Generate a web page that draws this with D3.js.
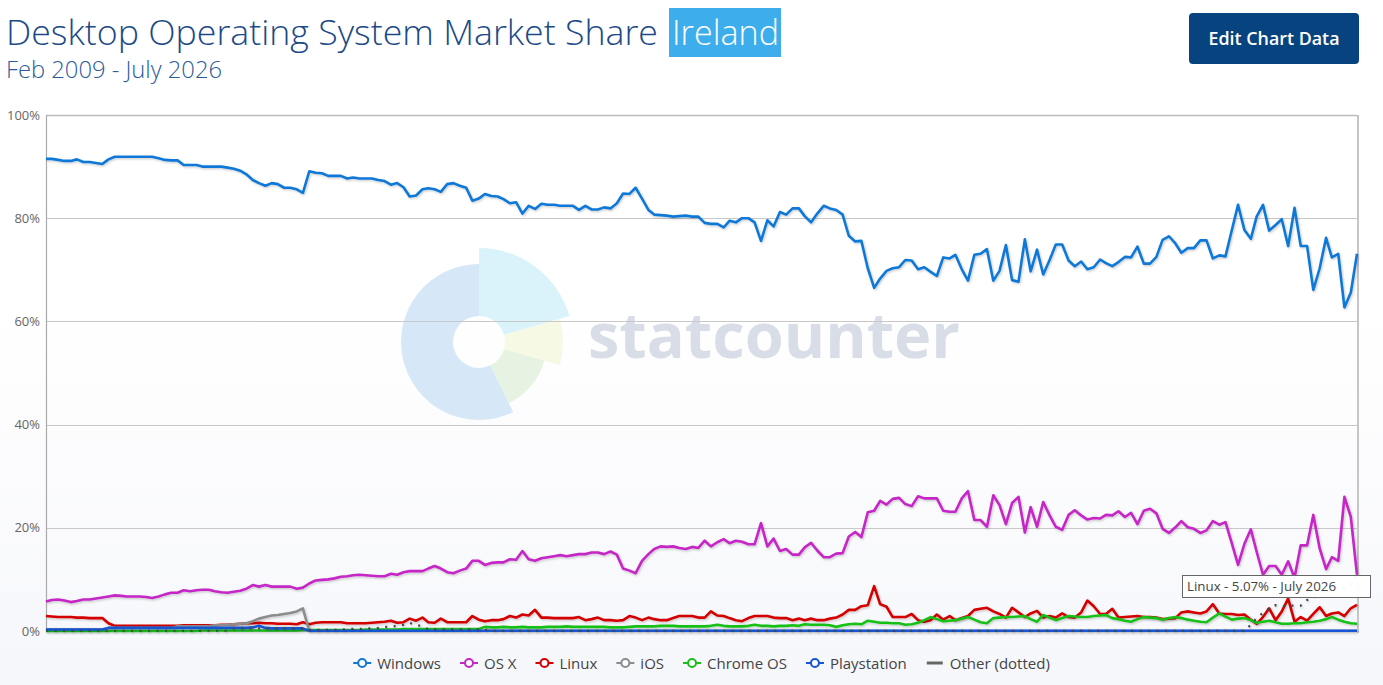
<!DOCTYPE html>
<html>
<head>
<meta charset="utf-8">
<script src="https://cdnjs.cloudflare.com/ajax/libs/d3/7.8.5/d3.min.js"></script>
<style>
  body { margin: 0; background: #fff; }
  svg { display: block; }
</style>
</head>
<body>
<script>
// Desktop OS market share, Ireland, monthly Feb 2009 - July 2026

var W = 1383, H = 685;

var seriesNames = ["Windows", "OS X", "Linux", "iOS", "Chrome OS", "Playstation", "Other (dotted)"];

var windows = [
  91.5, 91.5, 91.3, 91.1, 91.1, 91.4, 90.9, 90.9, 90.7, 90.5,
  91.4, 91.9, 91.9, 91.9, 91.9, 91.9, 91.9, 91.9, 91.6, 91.3,
  91.2, 91.2, 90.3, 90.3, 90.3, 90.0, 90.0, 90.0, 90.0, 89.8,
  89.6, 89.2, 88.5, 87.4, 86.8, 86.3, 86.8, 86.6, 85.9, 85.9,
  85.6, 84.9, 89.1, 88.8, 88.7, 88.2, 88.2, 88.2, 87.7, 87.9,
  87.7, 87.7, 87.7, 87.4, 87.2, 86.5, 86.8, 86.0, 84.2, 84.4,
  85.6, 85.8, 85.6, 85.1, 86.6, 86.8, 86.3, 85.9, 83.4, 83.8,
  84.7, 84.3, 84.2, 83.7, 82.9, 83.1, 80.9, 82.4, 81.8, 82.8,
  82.6, 82.6, 82.4, 82.4, 82.4, 81.6, 82.4, 81.7, 81.7, 82.1,
  81.9, 82.9, 84.8, 84.7, 85.9, 83.8, 81.6, 80.7, 80.6, 80.5,
  80.3, 80.4, 80.5, 80.3, 80.3, 79.1, 78.9, 78.9, 78.2, 79.5,
  79.2, 80.0, 80.0, 79.2, 75.6, 79.6, 78.4, 81.2, 80.7, 81.9,
  81.9, 80.4, 79.2, 80.9, 82.4, 81.9, 81.6, 80.7, 76.6, 75.5,
  75.6, 70.3, 66.5, 68.3, 69.8, 70.3, 70.5, 71.9, 71.8, 70.1,
  70.5, 69.6, 68.8, 72.4, 72.2, 72.9, 70.1, 67.9, 72.9, 73.1,
  74.0, 67.9, 69.8, 74.8, 68.0, 67.7, 75.9, 69.7, 73.9, 69.1,
  71.9, 74.9, 74.9, 71.8, 70.7, 71.6, 70.1, 70.5, 72.0, 71.3,
  70.7, 71.5, 72.5, 72.4, 74.5, 71.2, 71.2, 72.5, 75.8, 76.5,
  75.1, 73.3, 74.2, 74.2, 75.7, 75.7, 72.2, 72.8, 72.6, 77.7,
  82.6, 77.7, 76.0, 80.3, 82.6, 77.6, 78.7, 79.8, 74.6, 82.0,
  74.6, 74.6, 66.1, 70.3, 76.2, 72.4, 73.1, 62.7, 65.6, 73.1
];

var osx = [
  5.7, 6.0, 6.1, 5.9, 5.6, 5.8, 6.1, 6.1, 6.3, 6.5,
  6.7, 6.9, 6.8, 6.7, 6.7, 6.7, 6.6, 6.4, 6.7, 7.1,
  7.4, 7.4, 7.9, 7.7, 7.9, 8.0, 8.0, 7.7, 7.5, 7.4,
  7.6, 7.8, 8.2, 8.9, 8.6, 8.9, 8.6, 8.6, 8.6, 8.6,
  8.2, 8.4, 9.2, 9.8, 9.9, 10.0, 10.2, 10.5, 10.6, 10.8,
  10.9, 10.8, 10.7, 10.6, 10.6, 11.1, 10.9, 11.4, 11.6, 11.6,
  11.6, 12.1, 12.6, 12.1, 11.4, 11.2, 11.7, 12.1, 13.6, 13.6,
  12.8, 13.2, 13.3, 13.3, 13.9, 13.8, 15.5, 13.9, 13.6, 14.1,
  14.3, 14.5, 14.7, 14.5, 14.7, 14.9, 14.9, 15.2, 15.2, 14.9,
  15.4, 14.8, 12.1, 11.7, 11.2, 13.6, 14.9, 15.9, 16.4, 16.3,
  16.4, 16.1, 15.9, 16.3, 16.1, 17.5, 16.4, 17.2, 17.8, 17.0,
  17.5, 17.3, 16.8, 16.8, 20.9, 16.4, 17.9, 15.5, 15.9, 14.8,
  14.8, 16.2, 17.1, 15.6, 14.3, 14.3, 15.0, 15.1, 18.3, 19.2,
  18.2, 23.0, 23.3, 25.2, 24.5, 25.6, 25.8, 24.6, 24.2, 26.1,
  25.7, 25.7, 25.7, 23.3, 23.1, 23.1, 25.7, 27.1, 21.5, 21.5,
  20.2, 26.3, 24.4, 20.7, 24.8, 26.0, 19.1, 24.0, 20.2, 25.0,
  22.4, 20.2, 19.6, 22.5, 23.4, 22.4, 21.6, 21.9, 21.8, 22.5,
  22.4, 23.2, 22.1, 22.9, 20.7, 23.3, 23.7, 22.8, 19.8, 19.0,
  20.1, 21.3, 20.1, 19.8, 19.0, 19.5, 21.3, 20.6, 21.1, 17.0,
  12.8, 16.9, 19.7, 15.4, 10.9, 12.6, 12.6, 10.9, 13.5, 10.3,
  16.6, 16.6, 22.5, 16.0, 12.0, 14.3, 13.6, 26.0, 22.1, 10.9
];

var linux = [
  2.9, 2.8, 2.7, 2.7, 2.7, 2.6, 2.6, 2.5, 2.5, 2.5,
  1.5, 1.0, 1.0, 1.0, 1.0, 1.0, 1.0, 1.0, 1.0, 1.0,
  1.0, 1.0, 1.1, 1.1, 1.1, 1.1, 1.1, 1.1, 1.2, 1.2,
  1.3, 1.4, 1.5, 1.5, 1.6, 1.5, 1.5, 1.4, 1.4, 1.4,
  1.3, 1.7, 1.3, 1.6, 1.7, 1.7, 1.7, 1.7, 1.5, 1.5,
  1.5, 1.5, 1.6, 1.7, 1.8, 2.0, 1.6, 1.7, 2.4, 2.0,
  2.6, 1.7, 1.6, 2.4, 1.7, 1.7, 1.7, 1.7, 2.9, 2.2,
  1.9, 2.1, 2.1, 2.3, 2.9, 2.6, 3.2, 3.0, 4.1, 2.6,
  2.6, 2.5, 2.5, 2.5, 2.5, 2.7, 2.1, 2.3, 2.6, 2.1,
  2.1, 2.0, 2.1, 2.9, 2.6, 2.1, 2.6, 2.3, 2.1, 2.1,
  2.5, 2.9, 2.9, 2.9, 2.6, 2.6, 3.8, 3.0, 2.9, 2.5,
  2.1, 1.9, 2.5, 2.9, 2.9, 2.9, 2.6, 2.5, 2.5, 2.1,
  2.4, 2.1, 2.4, 2.1, 2.1, 2.4, 2.6, 3.2, 4.1, 4.1,
  4.8, 5.0, 8.7, 5.2, 4.7, 2.7, 2.7, 2.7, 3.3, 2.1,
  1.8, 2.1, 3.2, 2.2, 2.9, 2.1, 2.5, 2.9, 4.1, 4.3,
  4.5, 3.8, 3.3, 2.6, 4.5, 3.6, 2.7, 3.4, 3.9, 2.6,
  2.9, 2.6, 3.4, 2.7, 2.6, 3.6, 5.9, 4.8, 3.3, 3.3,
  4.3, 2.6, 2.7, 2.8, 2.9, 2.7, 2.7, 2.6, 2.3, 2.4,
  2.5, 3.6, 3.8, 3.6, 3.4, 3.8, 5.2, 3.4, 3.3, 3.3,
  3.1, 3.2, 2.2, 1.4, 2.7, 4.4, 2.1, 3.8, 6.3, 1.8,
  2.7, 2.0, 3.3, 4.6, 2.9, 3.4, 3.6, 2.9, 4.4, 5.07
];

var ios = [
  0.3, 0.3, 0.3, 0.3, 0.3, 0.3, 0.3, 0.3, 0.3, 0.3,
  0.6, 0.6, 0.6, 0.6, 0.6, 0.6, 0.6, 0.6, 0.6, 0.6,
  0.6, 0.9, 0.9, 0.9, 0.9, 0.9, 0.9, 1.1, 1.1, 1.2,
  1.3, 1.4, 1.5, 1.9, 2.4, 2.7, 3.0, 3.1, 3.3, 3.5,
  3.8, 4.4, 0, 0, 0, 0, 0, 0, 0, 0,
  0, 0, 0, 0, 0, 0, 0, 0, 0, 0,
  0, 0, 0, 0, 0, 0, 0, 0, 0, 0,
  0, 0, 0, 0, 0, 0, 0, 0, 0, 0,
  0, 0, 0, 0, 0, 0, 0, 0, 0, 0,
  0, 0, 0, 0, 0, 0, 0, 0, 0, 0,
  0, 0, 0, 0, 0, 0, 0, 0, 0, 0,
  0, 0, 0, 0, 0, 0, 0, 0, 0, 0,
  0, 0, 0, 0, 0, 0, 0, 0, 0, 0,
  0, 0, 0, 0, 0, 0, 0, 0, 0, 0,
  0, 0, 0, 0, 0, 0, 0, 0, 0, 0,
  0, 0, 0, 0, 0, 0, 0, 0, 0, 0,
  0, 0, 0, 0, 0, 0, 0, 0, 0, 0,
  0, 0, 0, 0, 0, 0, 0, 0, 0, 0,
  0, 0, 0, 0, 0, 0, 0, 0, 0, 0,
  0, 0, 0, 0, 0, 0, 0, 0, 0, 0,
  0, 0, 0, 0, 0, 0, 0, 0, 0, 0
];

var chromeos = [
  0, 0, 0, 0, 0, 0, 0, 0, 0, 0,
  0, 0, 0, 0, 0, 0, 0, 0, 0, 0,
  0, 0, 0, 0, 0, 0.1, 0.1, 0.1, 0.1, 0.1,
  0.1, 0.1, 0.1, 0.1, 0.1, 0.1, 0.1, 0.1, 0.1, 0.1,
  0.1, 0.2, 0.2, 0.2, 0.2, 0.2, 0.2, 0.2, 0.2, 0.2,
  0.2, 0.3, 0.3, 0.3, 0.3, 0.3, 0.3, 0.4, 0.4, 0.4,
  0.4, 0.4, 0.4, 0.4, 0.4, 0.4, 0.4, 0.4, 0.4, 0.4,
  0.8, 0.7, 0.7, 0.8, 0.7, 0.7, 0.8, 0.7, 0.7, 0.7,
  0.8, 0.8, 0.8, 0.9, 0.8, 0.8, 0.8, 0.8, 0.8, 0.8,
  0.7, 0.7, 0.7, 0.8, 0.9, 0.9, 0.9, 0.9, 1.0, 1.0,
  1.0, 0.9, 0.9, 0.9, 0.9, 0.9, 1.0, 1.2, 1.0, 0.9,
  0.9, 0.9, 1.0, 1.2, 1.0, 1.0, 0.9, 1.0, 1.0, 1.1,
  1.0, 1.3, 1.2, 1.2, 1.2, 1.1, 0.8, 1.1, 1.3, 1.4,
  1.3, 2.0, 1.8, 1.6, 1.6, 1.5, 1.5, 1.2, 1.3, 1.6,
  2.1, 2.7, 2.3, 1.9, 2.0, 2.1, 2.4, 2.7, 2.2, 1.7,
  1.5, 2.5, 2.6, 2.7, 2.7, 2.8, 2.9, 2.3, 1.8, 3.1,
  2.6, 2.1, 2.5, 2.9, 2.8, 2.7, 2.7, 2.9, 3.0, 3.1,
  2.5, 2.3, 2.0, 1.8, 2.3, 2.7, 2.6, 2.5, 2.2, 2.5,
  2.7, 2.5, 2.2, 2.0, 1.8, 1.7, 2.6, 3.4, 2.8, 2.2,
  2.4, 2.5, 2.1, 1.6, 1.8, 2.0, 1.7, 1.4, 1.4, 1.5,
  1.5, 1.7, 1.8, 2.0, 2.3, 2.7, 2.2, 1.8, 1.5, 1.4
];

var playstation = [
  0.3, 0.3, 0.3, 0.3, 0.3, 0.3, 0.3, 0.3, 0.3, 0.3,
  0.6, 0.6, 0.6, 0.6, 0.6, 0.6, 0.6, 0.6, 0.6, 0.6,
  0.6, 0.6, 0.6, 0.6, 0.6, 0.6, 0.6, 0.6, 0.6, 0.6,
  0.6, 0.6, 0.6, 0.7, 1.0, 0.6, 0.5, 0.5, 0.5, 0.5,
  0.5, 0.5, 0.02, 0.02, 0.02, 0.02, 0.02, 0.02, 0.02, 0.02,
  0.02, 0.02, 0.02, 0.02, 0.02, 0.02, 0.02, 0.02, 0.02, 0.02,
  0.02, 0.02, 0.02, 0.02, 0.02, 0.02, 0.02, 0.02, 0.02, 0.02,
  0.02, 0.02, 0.02, 0.02, 0.02, 0.02, 0.02, 0.02, 0.02, 0.02,
  0.02, 0.02, 0.02, 0.02, 0.02, 0.02, 0.02, 0.02, 0.02, 0.02,
  0.02, 0.02, 0.02, 0.02, 0.02, 0.02, 0.02, 0.02, 0.02, 0.02,
  0.02, 0.02, 0.02, 0.02, 0.02, 0.02, 0.02, 0.02, 0.02, 0.02,
  0.02, 0.02, 0.02, 0.02, 0.02, 0.02, 0.02, 0.02, 0.02, 0.02,
  0.02, 0.02, 0.02, 0.02, 0.02, 0.02, 0.02, 0.02, 0.02, 0.02,
  0.02, 0.02, 0.02, 0.02, 0.02, 0.02, 0.02, 0.02, 0.02, 0.02,
  0.02, 0.02, 0.02, 0.02, 0.02, 0.02, 0.02, 0.02, 0.02, 0.02,
  0.02, 0.02, 0.02, 0.02, 0.02, 0.02, 0.02, 0.02, 0.02, 0.02,
  0.02, 0.02, 0.02, 0.02, 0.02, 0.02, 0.02, 0.02, 0.02, 0.02,
  0.02, 0.02, 0.02, 0.02, 0.02, 0.02, 0.02, 0.02, 0.02, 0.02,
  0.02, 0.02, 0.02, 0.02, 0.02, 0.02, 0.02, 0.02, 0.02, 0.02,
  0.02, 0.02, 0.02, 0.02, 0.02, 0.02, 0.02, 0.02, 0.02, 0.02,
  0.02, 0.02, 0.02, 0.02, 0.02, 0.02, 0.02, 0.02, 0.02, 0.02
];

var other = [
  0.05, 0.05, 0.05, 0.05, 0.05, 0.05, 0.05, 0.05, 0.05, 0.05,
  0.05, 0.05, 0.05, 0.05, 0.05, 0.05, 0.05, 0.05, 0.05, 0.05,
  0.05, 0.05, 0.05, 0.05, 0.05, 0.05, 0.05, 0.05, 0.05, 0.05,
  0.5, 0.5, 0.5, 0.5, 0.5, 0.5, 0.5, 0.5, 0.5, 0.5,
  0.5, 0.5, 0.2, 0.2, 0.2, 0.2, 0.2, 0.2, 0.4, 0.4,
  0.4, 0.5, 0.5, 0.6, 0.8, 0.8, 1.0, 1.2, 1.6, 1.1,
  1.0, 0.3, 0.3, 0.3, 0.3, 0.3, 0.3, 0.3, 0.3, 0.3,
  0.3, 0.05, 0.05, 0.05, 0.05, 0.05, 0.05, 0.05, 0.05, 0.05,
  0.05, 0.05, 0.05, 0.05, 0.05, 0.05, 0.05, 0.05, 0.05, 0.05,
  0.05, 0.05, 0.05, 0.05, 0.05, 0.05, 0.05, 0.05, 0.05, 0.05,
  0.05, 0.05, 0.05, 0.05, 0.05, 0.05, 0.05, 0.05, 0.05, 0.05,
  0.05, 0.05, 0.05, 0.05, 0.05, 0.05, 0.05, 0.05, 0.05, 0.05,
  0.05, 0.05, 0.05, 0.05, 0.05, 0.05, 0.05, 0.05, 0.05, 0.05,
  0.05, 0.05, 0.05, 0.05, 0.05, 0.05, 0.05, 0.05, 0.05, 0.05,
  0.05, 0.05, 0.05, 0.05, 0.05, 0.05, 0.05, 0.05, 0.05, 0.05,
  0.05, 0.05, 0.05, 0.05, 0.05, 0.05, 0.05, 0.05, 0.05, 0.05,
  0.05, 0.05, 0.05, 0.05, 0.05, 0.05, 0.05, 0.05, 0.05, 0.05,
  0.05, 0.05, 0.05, 0.05, 0.05, 0.05, 0.05, 0.05, 0.05, 0.05,
  0.05, 0.05, 0.05, 0.05, 0.05, 0.05, 0.05, 0.05, 0.05, 0.05,
  0.05, 0.05, 1.2, 2.5, 3.5, 4.4, 5.0, 4.8, 4.9, 4.9,
  4.9, 6.0, 6.8, 7.9, 7.4, 8.2, 8.6, 8.1, 9.3, 11.0
];

var yTicks = [0, 20, 40, 60, 80, 100];

// monthly categories Feb 2009 .. Jul 2026
var months = d3.timeMonth.range(new Date(2009, 1, 1), new Date(2026, 7, 1));

var colors = ["#0f78d8", "#c526c5", "#d40000", "#8c8c8c", "#19c019", "#1656d6", "#444444"];
var allValues = [windows, osx, linux, ios, chromeos, playstation, other];

var margin = { left: 46, right: 1357, top: 115, bottom: 631 };

var svg = d3.select("body").append("svg")
  .attr("width", W)
  .attr("height", H);

var defs = svg.append("defs");

var bg = defs.append("linearGradient")
  .attr("id", "bg")
  .attr("x1", 0).attr("y1", 0).attr("x2", 0).attr("y2", 1);
bg.append("stop").attr("offset", "0.45").attr("stop-color", "#ffffff");
bg.append("stop").attr("offset", "1").attr("stop-color", "#f6f7fb");

var shadow = defs.append("filter")
  .attr("id", "shadow")
  .attr("x", "-5%").attr("y", "-20%").attr("width", "110%").attr("height", "140%");
shadow.append("feDropShadow")
  .attr("dx", 1).attr("dy", 1.2)
  .attr("stdDeviation", 0.9)
  .attr("flood-color", "#000")
  .attr("flood-opacity", 0.22);

svg.append("rect")
  .attr("width", W).attr("height", H)
  .attr("fill", "url(#bg)");

// scales
var x = d3.scaleTime()
  .domain([months[0], months[months.length - 1]])
  .range([margin.left, margin.right]);

var y = d3.scaleLinear()
  .domain([0, 100])
  .range([margin.bottom, margin.top]);

// watermark
var wm = svg.append("g").attr("transform", "translate(479,342)");
var wmSegs = [
  { a0: 0, a1: 74, r: 94, c: "#daf3fb" },
  { a0: 74, a1: 106, r: 84, c: "#f6f9e3" },
  { a0: 106, a1: 154, r: 68, c: "#e6f2e2" },
  { a0: 154, a1: 360, r: 78, c: "#d6e8f7" }
];
var wmArc = d3.arc().innerRadius(26);
wm.selectAll("path")
  .data(wmSegs)
  .enter()
  .append("path")
  .attr("d", function(d) {
    return wmArc({ outerRadius: d.r, startAngle: d.a0 * Math.PI / 180, endAngle: d.a1 * Math.PI / 180 });
  })
  .attr("fill", function(d) { return d.c; });

svg.append("text")
  .text("statcounter")
  .attr("x", 588)
  .attr("y", 358)
  .attr("textLength", 372)
  .attr("lengthAdjust", "spacingAndGlyphs")
  .attr("font-family", "'Open Sans', sans-serif")
  .attr("font-weight", "bold")
  .attr("font-size", "62px")
  .attr("fill", "#d8dde8");

// gridlines
svg.append("g")
  .selectAll("line")
  .data(yTicks)
  .enter()
  .append("line")
  .attr("x1", margin.left)
  .attr("x2", margin.right)
  .attr("y1", function(d) { return Math.round(y(d)) + 0.5; })
  .attr("y2", function(d) { return Math.round(y(d)) + 0.5; })
  .attr("stroke", function(d) { return d === 100 ? "#bdbdbd" : "#c8c8c8"; })
  .attr("stroke-width", function(d) { return d === 100 ? 1.5 : 1; });

// y axis
var yAxis = d3.axisLeft(y)
  .tickValues(yTicks)
  .tickFormat(function(d) { return d + "%"; })
  .tickSize(0)
  .tickPadding(6);

var gy = svg.append("g")
  .attr("transform", "translate(" + margin.left + ",0)")
  .call(yAxis);
gy.select(".domain").attr("stroke", "#aaaaaa").attr("stroke-width", 1.2);
gy.selectAll("text")
  .attr("font-family", "'Open Sans', sans-serif")
  .attr("font-size", "13px")
  .attr("fill", "#666");

// right frame
svg.append("line")
  .attr("x1", margin.right + 1).attr("x2", margin.right + 1)
  .attr("y1", margin.top).attr("y2", margin.bottom + 2)
  .attr("stroke", "#c6c6c6")
  .attr("stroke-width", 2);

// lines
var line = d3.line()
  .x(function(d) { return x(d.date); })
  .y(function(d) { return y(d.v); });

var series = seriesNames.map(function(name, i) {
  return {
    name: name,
    color: colors[i],
    values: allValues[i].map(function(v, j) { return { date: months[j], v: v }; })
  };
});

svg.append("g")
  .selectAll("path")
  .data(series)
  .enter()
  .append("path")
  .attr("d", function(d) { return line(d.values); })
  .attr("fill", "none")
  .attr("stroke", function(d) { return d.color; })
  .attr("stroke-width", function(d, i) { return i === 6 ? 2.2 : 2.6; })
  .attr("stroke-dasharray", function(d, i) { return i === 6 ? "2,6.5" : null; })
  .attr("stroke-linejoin", "round")
  .attr("filter", "url(#shadow)");

// legend
var legend = svg.append("g");
var lx = 0;
series.forEach(function(s, i) {
  var g = legend.append("g").attr("transform", "translate(" + lx + ",0)");
  if (i < 6) {
    g.append("line")
      .attr("x1", -9).attr("x2", 9).attr("y1", 0).attr("y2", 0)
      .attr("stroke", s.color).attr("stroke-width", 2);
    g.append("circle")
      .attr("r", 4)
      .attr("fill", "#fff")
      .attr("stroke", s.color)
      .attr("stroke-width", 2);
  } else {
    g.append("line")
      .attr("x1", -8).attr("x2", 8).attr("y1", 0).attr("y2", 0)
      .attr("stroke", "#666").attr("stroke-width", 3);
  }
  var t = g.append("text")
    .text(s.name)
    .attr("x", 15)
    .attr("y", 5.5)
    .attr("font-family", "'Open Sans', sans-serif")
    .attr("font-size", "15px")
    .attr("fill", "#444");
  lx += 15 + t.node().getComputedTextLength() + 28;
});
var lb = legend.node().getBBox();
legend.attr("transform", "translate(" + ((margin.left + margin.right) / 2 - (lb.x + lb.width / 2)) + ",663)");

// title
svg.append("text")
  .text("Desktop Operating System Market Share")
  .attr("x", 6)
  .attr("y", 45)
  .attr("textLength", 652)
  .attr("lengthAdjust", "spacingAndGlyphs")
  .attr("font-family", "'Open Sans', sans-serif")
  .attr("font-weight", 300)
  .attr("font-size", "35px")
  .attr("fill", "#1b4a87");

svg.append("rect")
  .attr("x", 669).attr("y", 8)
  .attr("width", 112).attr("height", 49)
  .attr("fill", "#3daeeb");

svg.append("text")
  .text("Ireland")
  .attr("x", 672)
  .attr("y", 45)
  .attr("textLength", 107)
  .attr("lengthAdjust", "spacingAndGlyphs")
  .attr("font-family", "'Open Sans', sans-serif")
  .attr("font-weight", 300)
  .attr("font-size", "35px")
  .attr("fill", "#ffffff");

svg.append("text")
  .text("Feb 2009 - July 2026")
  .attr("x", 6)
  .attr("y", 78)
  .attr("textLength", 216)
  .attr("lengthAdjust", "spacingAndGlyphs")
  .attr("font-family", "'Open Sans', sans-serif")
  .attr("font-weight", 300)
  .attr("font-size", "23px")
  .attr("fill", "#2b5c9b");

// button
svg.append("rect")
  .attr("x", 1189).attr("y", 13)
  .attr("width", 170).attr("height", 51)
  .attr("rx", 4)
  .attr("fill", "#07447f");

svg.append("text")
  .text("Edit Chart Data")
  .attr("x", 1274)
  .attr("y", 45)
  .attr("text-anchor", "middle")
  .attr("textLength", 131)
  .attr("lengthAdjust", "spacingAndGlyphs")
  .attr("font-family", "'Open Sans', sans-serif")
  .attr("font-weight", 600)
  .attr("font-size", "18px")
  .attr("fill", "#ffffff");

// tooltip for last Linux point
var tip = svg.append("g");
tip.append("rect")
  .attr("x", 1182.5).attr("y", 575.5)
  .attr("width", 188).attr("height", 22)
  .attr("fill", "#ffffff")
  .attr("fill-opacity", 0.96)
  .attr("stroke", "#666")
  .attr("stroke-width", 1);
tip.append("text")
  .text("Linux - " + linux[linux.length - 1].toFixed(2) + "% - " + d3.timeFormat("%B %Y")(months[months.length - 1]))
  .attr("x", 1187)
  .attr("y", 591)
  .attr("textLength", 149)
  .attr("lengthAdjust", "spacingAndGlyphs")
  .attr("font-family", "'Open Sans', sans-serif")
  .attr("font-size", "13px")
  .attr("fill", "#444");
</script>
</body>
</html>
